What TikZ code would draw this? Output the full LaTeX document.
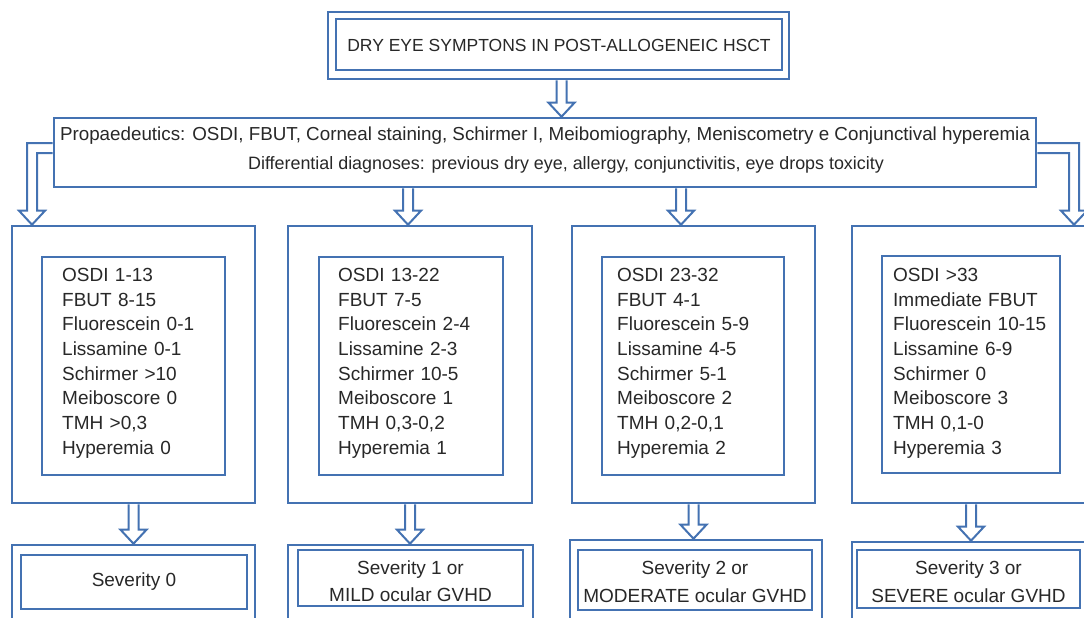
\documentclass[tikz,border=0pt]{standalone}
\usepackage{fontspec}
\setmainfont{Liberation Sans}
\usetikzlibrary{calc}
\definecolor{bl}{RGB}{68,114,178}
\definecolor{tx}{RGB}{40,40,40}
\tikzset{
  box/.style={draw=bl, line width=2.6pt, fill=white, rectangle, inner sep=0pt},
  txt/.style={text=tx, inner sep=0pt, font=\fontsize{19}{24.7}\selectfont},
  list/.style={txt, anchor=north west, align=left, text width=170pt},
  two/.style={txt, align=center, font=\fontsize{19}{28}\selectfont},
  harr/.style={draw=bl, line width=2pt, line join=miter},
}
\newcommand{\hdown}[2]{\path[harr] let \p1=(#1), \p2=(#2) in
  (\x1-5pt,\y1) -- (\x1-5pt,\y2+14pt) -- (\x1-13pt,\y2+14pt) -- (\x1,\y2)
  -- (\x1+13pt,\y2+14pt) -- (\x1+5pt,\y2+14pt) -- (\x1+5pt,\y1);}
\begin{document}
\begin{tikzpicture}[x=1pt,y=-1pt]
\useasboundingbox (0,0) rectangle (1084,618);
\fill[white] (0,0) rectangle (1084,618);
\clip (0,0) rectangle (1084,618);

% top
\node[box, minimum width=461pt, minimum height=67pt] (topo) at (558.5,45.5) {};
\node[box, minimum width=446pt, minimum height=51pt] (topi) at (559,44.5) {};
\node[txt, font=\fontsize{17.5}{20}\selectfont] (title) at (559,45) {DRY EYE SYMPTONS IN POST-ALLOGENEIC HSCT};

% second box
\node[box, minimum width=982pt, minimum height=69pt] (box2) at (545,152.5) {};
\node[txt, align=center, font=\fontsize{18.8}{29}\selectfont] (prop) at (545,150)
 {Propaedeutics: OSDI, FBUT, Corneal staining, Schirmer I, Meibomiography, Meniscometry e Conjunctival hyperemia\\
  \hspace*{42pt}{\fontsize{17.9}{29}\selectfont Differential diagnoses: previous dry eye, allergy, conjunctivitis, eye drops toxicity}};

% columns
\node[box, minimum width=243pt, minimum height=277pt] (c1o) at (133.5,364.5) {};
\node[box, minimum width=183pt, minimum height=218pt] (c1i) at (133.5,366) {};
\node[box, minimum width=244pt, minimum height=277pt] (c2o) at (410,364.5) {};
\node[box, minimum width=184pt, minimum height=218pt] (c2i) at (411,366) {};
\node[box, minimum width=243pt, minimum height=277pt] (c3o) at (693.5,364.5) {};
\node[box, minimum width=182pt, minimum height=218pt] (c3i) at (693,366) {};
\node[box, minimum width=238pt, minimum height=277pt] (c4o) at (971,364.5) {};
\node[box, minimum width=178pt, minimum height=217pt] (c4i) at (971,364.5) {};

\node[list] (t1) at (62,268) {OSDI 1-13\\FBUT 8-15\\Fluorescein 0-1\\Lissamine 0-1\\Schirmer {>}10\\Meiboscore 0\\TMH {>}0,3\\Hyperemia 0};
\node[list] (t2) at (338,268) {OSDI 13-22\\FBUT 7-5\\Fluorescein 2-4\\Lissamine 2-3\\Schirmer 10-5\\Meiboscore 1\\TMH 0,3-0,2\\Hyperemia 1};
\node[list] (t3) at (617,268) {OSDI 23-32\\FBUT 4-1\\Fluorescein 5-9\\Lissamine 4-5\\Schirmer 5-1\\Meiboscore 2\\TMH 0,2-0,1\\Hyperemia 2};
\node[list] (t4) at (893,268) {OSDI {>}33\\Immediate FBUT\\Fluorescein 10-15\\Lissamine 6-9\\Schirmer 0\\Meiboscore 3\\TMH 0,1-0\\Hyperemia 3};

% bottom boxes
\node[box, minimum width=243pt, minimum height=80pt] (b1o) at (133.5,585) {};
\node[box, minimum width=226pt, minimum height=54pt] (b1i) at (134,582) {};
\node[box, minimum width=245pt, minimum height=80pt] (b2o) at (410.5,585) {};
\node[box, minimum width=225pt, minimum height=56pt] (b2i) at (410.5,578) {};
\node[box, minimum width=252pt, minimum height=85pt] (b3o) at (696,582.5) {};
\node[box, minimum width=234pt, minimum height=60pt] (b3i) at (695,580) {};
\node[box, minimum width=238pt, minimum height=83pt] (b4o) at (971,583.5) {};
\node[box, minimum width=223pt, minimum height=58pt] (b4i) at (968.5,579) {};

\node[txt] (s1) at (134,582) {Severity 0};
\node[two, font=\fontsize{19}{27}\selectfont] (s2) at (410.5,581.5) {Severity 1 or\\MILD ocular GVHD};
\node[two] (s3) at (695,582) {Severity 2 or\\MODERATE ocular GVHD};
\node[two] (s4) at (968.5,582) {Severity 3 or\\SEVERE ocular GVHD};

% arrows
\hdown{[xshift=3pt]topo.south}{box2.north}
\hdown{[xshift=-137pt]box2.south}{c2o.north}
\hdown{[xshift=136pt]box2.south}{c3o.north}
\path[harr] let \p1=(box2.west), \p2=(c1o.north) in
  (\x1,\y1+9.5pt) -- (27pt,\y1+9.5pt) -- (27pt,\y2+14pt) -- (19pt,\y2+14pt) -- (32pt,\y2)
  -- (45pt,\y2+14pt) -- (37pt,\y2+14pt) -- (37pt,\y1-0.5pt) -- (\x1,\y1-0.5pt);
\path[harr] let \p1=(box2.east), \p2=(c4o.north) in
  (\x1,\y1+9.5pt) -- (1079pt,\y1+9.5pt) -- (1079pt,\y2+14pt) -- (1087pt,\y2+14pt) -- (1074pt,\y2)
  -- (1061pt,\y2+14pt) -- (1069pt,\y2+14pt) -- (1069pt,\y1-0.5pt) -- (\x1,\y1-0.5pt);
\hdown{c1o.south}{b1o.north}
\hdown{c2o.south}{b2o.north}
\hdown{c3o.south}{b3o.north}
\hdown{c4o.south}{b4o.north}
\end{tikzpicture}
\end{document}
